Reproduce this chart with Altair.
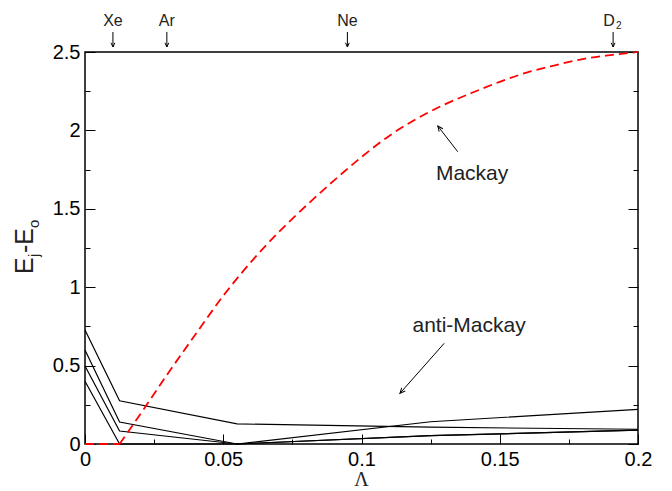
import math
import altair as alt
import pandas as pd

# ---- data -------------------------------------------------------------
# Lambda sample points shared by the four anti-Mackay branches
lam_branch = [0.0, 0.0125, 0.055, 0.125, 0.2]
branch_a = [0.727, 0.276, 0.128, 0.107, 0.094]
branch_b = [0.600, 0.140, 0.000, 0.142, 0.221]
branch_c = [0.497, 0.083, 0.000, 0.053, 0.089]
branch_d = [0.400, 0.000, 0.000, 0.053, 0.089]

# Mackay energy curve
lam_mackay = [0.0, 0.0125, 0.02, 0.03, 0.04, 0.05, 0.06, 0.07, 0.08, 0.09, 0.10,
              0.11, 0.12, 0.13, 0.14, 0.15, 0.16, 0.17, 0.18, 0.19, 0.20]
e_mackay = [0.0, 0.0, 0.19, 0.45, 0.70, 0.945, 1.16, 1.35, 1.52, 1.68, 1.83,
            1.965, 2.075, 2.165, 2.24, 2.31, 2.37, 2.415, 2.455, 2.48, 2.5]

# substances marked along the top edge
species = ["Xe", "Ar", "Ne"]
lam_species = [0.0101, 0.0296, 0.0949]
lam_d2 = 0.191

# annotations with arrows
note_text = ["Mackay", "anti-Mackay"]
note_lam = [0.140, 0.1389]
note_e = [1.684, 0.716]
tail_lam = [0.1348, 0.1299]
tail_e = [1.864, 0.642]
tip_lam = [0.1276, 0.1139]
tip_e = [2.028, 0.323]

# axis ticks
x_major = [0, 0.05, 0.1, 0.15, 0.2]
x_minor = [0.025, 0.075, 0.125, 0.175]
y_major = [0, 0.5, 1, 1.5, 2, 2.5]
y_minor = [0.25, 0.75, 1.25, 1.75, 2.25]

# ---- layout -----------------------------------------------------------
W, H = 553, 392
LAM_MAX, E_MAX = 0.2, 2.5
KX, KY = W / LAM_MAX, H / E_MAX
FONT = "Liberation Sans"
HEAD = "M-0.45,1L0,0L0.45,1"

xs = alt.Scale(domain=[0, LAM_MAX], nice=False, zero=False)
ys = alt.Scale(domain=[0, E_MAX], nice=False, zero=False)


def axis(orient, values, size, labels):
    # inward-pointing ticks: shift the axis into the plot by its tick length
    return alt.Axis(orient=orient, values=values, tickSize=size, offset=-size,
                    labels=labels, domain=False, grid=False, title=None,
                    tickColor="black", tickWidth=1, labelFlush=False,
                    labelOverlap=False, labelPadding=5, format="~g",
                    labelFont=FONT, labelFontSize=20, labelColor="black")


branches = pd.DataFrame(
    [{"lam": l, "E": e, "branch": i}
     for i, vals in enumerate([branch_a, branch_b, branch_c, branch_d])
     for l, e in zip(lam_branch, vals)]
)
mackay = pd.DataFrame({"lam": lam_mackay, "E": e_mackay})
onset = mackay["lam"].iloc[1]
mackay_flat = mackay[mackay["lam"] <= onset]
mackay_rise = mackay[mackay["lam"] >= onset]

notes = pd.DataFrame({
    "text": note_text, "lam": note_lam, "E": note_e,
    "tail_lam": tail_lam, "tail_e": tail_e, "tip_lam": tip_lam, "tip_e": tip_e,
})
notes["angle"] = [
    math.degrees(math.atan2((b - a) * KX, (d - c) * KY)) % 360
    for a, b, c, d in zip(tail_lam, tip_lam, tail_e, tip_e)
]
tops = pd.DataFrame({"name": species + ["D"], "lam": lam_species + [lam_d2]})

lines = alt.Chart(branches).mark_line(color="black", strokeWidth=1.2).encode(
    x=alt.X("lam:Q", scale=xs, axis=axis("bottom", x_major, 10, True)),
    y=alt.Y("E:Q", scale=ys, axis=axis("left", y_major, 10, True)),
    detail="branch:N",
)

dash = dict(color="#ff0000", strokeDash=[9, 5], strokeWidth=1.8)
curve_flat = alt.Chart(mackay_flat).mark_line(**dash).encode(
    x=alt.X("lam:Q", scale=xs, axis=axis("bottom", x_minor, 5, False)),
    y=alt.Y("E:Q", scale=ys, axis=axis("left", y_minor, 5, False)),
)
curve_rise = alt.Chart(mackay_rise).mark_line(interpolate="monotone", **dash).encode(
    x=alt.X("lam:Q", scale=xs, axis=None),
    y=alt.Y("E:Q", scale=ys, axis=None),
)

shafts = alt.Chart(notes).mark_rule(color="black", strokeWidth=1).encode(
    x=alt.X("tail_lam:Q", scale=xs, axis=None),
    y=alt.Y("tail_e:Q", scale=ys, axis=axis("right", y_major, 10, False)),
    x2="tip_lam:Q",
    y2="tip_e:Q",
)

heads = alt.Chart(notes).mark_point(
    shape=HEAD, filled=False, size=110, color="black", strokeWidth=1, opacity=1
).encode(
    x=alt.X("tip_lam:Q", scale=xs, axis=None),
    y=alt.Y("tip_e:Q", scale=ys, axis=axis("right", y_minor, 5, False)),
    angle=alt.Angle("angle:Q", scale=None),
)

labels = alt.Chart(notes).mark_text(
    font=FONT, fontSize=21, color="#222222", baseline="alphabetic"
).encode(
    x=alt.X("lam:Q", scale=xs, axis=None),
    y=alt.Y("E:Q", scale=ys, axis=None),
    text="text:N",
)

top_shafts = alt.Chart(tops).mark_rule(color="black", strokeWidth=1).encode(
    x=alt.X("lam:Q", scale=xs, axis=None), y=alt.value(-20), y2=alt.value(-5)
)
top_heads = alt.Chart(tops).mark_point(
    shape=HEAD, filled=False, size=70, color="black", strokeWidth=1, opacity=1
).encode(
    x=alt.X("lam:Q", scale=xs, axis=None), y=alt.value(-5), angle=alt.value(180)
)
top_names = alt.Chart(tops[tops["name"] != "D"]).mark_text(
    font=FONT, fontSize=16, color="#222222", baseline="alphabetic"
).encode(x=alt.X("lam:Q", scale=xs, axis=None), y=alt.value(-26), text="name:N")
d_name = alt.Chart(tops[tops["name"] == "D"]).mark_text(
    font=FONT, fontSize=16, color="#222222", baseline="alphabetic", dx=-4
).encode(x=alt.X("lam:Q", scale=xs, axis=None), y=alt.value(-26), text="name:N")
d_sub = alt.Chart(tops[tops["name"] == "D"]).mark_text(
    font=FONT, fontSize=10, color="#222222", baseline="alphabetic", align="left", dx=3
).encode(x=alt.X("lam:Q", scale=xs, axis=None), y=alt.value(-23), text=alt.value("2"))


def piece(text, px, py, size, font=FONT, angle=270, align="left"):
    return alt.Chart(pd.DataFrame({"t": [text]})).mark_text(
        font=font, fontSize=size, color="#222222", baseline="alphabetic",
        align=align, angle=angle,
    ).encode(x=alt.value(px), y=alt.value(py), text="t:N")


# y title  E_j - E_o  built from rotated pieces
y_title = [
    piece("E", -52, 222, 25),
    piece("j", -46, 205, 15),
    piece("-E", -52, 201, 25),
    piece("o", -46, 176, 15),
]
x_title = piece("Λ", W / 2, 434, 20, font="Liberation Serif", angle=0, align="center")

chart = alt.layer(
    lines, curve_flat, curve_rise, shafts, heads, labels,
    top_shafts, top_heads, top_names, d_name, d_sub,
    *y_title, x_title,
).resolve_axis(
    x="independent", y="independent"
).properties(
    width=W, height=H,
    padding={"left": 85, "top": 52, "right": 34, "bottom": 47},
    autosize=alt.AutoSizeParams(type="none"),
    background="white",
).configure_view(stroke="black", strokeWidth=1.5)

chart.save("out.html", embed_options={"renderer": "svg", "actions": False})
